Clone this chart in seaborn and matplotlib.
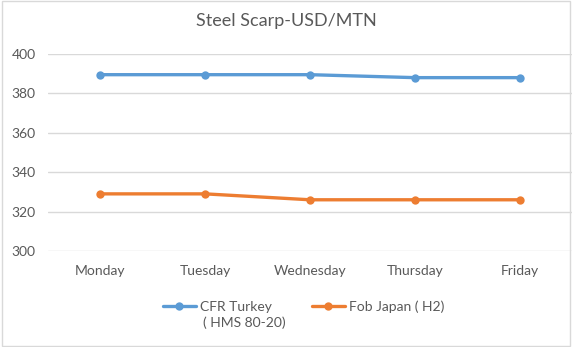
import matplotlib
matplotlib.use("Agg")
import matplotlib.pyplot as plt
from matplotlib.patches import Rectangle
import pandas as pd
import seaborn as sns

days = ["Monday", "Tuesday", "Wednesday", "Thursday", "Friday"]
cfr_turkey = [389.5, 389.5, 389.5, 388, 388]
fob_japan = [329, 329, 326, 326, 326]
series_names = ["CFR Turkey", "Fob Japan ( H2)"]
series_subtitle = "( HMS 80-20)"
y_ticks = [300, 320, 340, 360, 380, 400]

df = pd.DataFrame({
    "day": days * 2,
    "price": cfr_turkey + fob_japan,
    "series": [series_names[0]] * len(days) + [series_names[1]] * len(days),
})

sns.set_theme(style="white")
plt.rcParams["font.family"] = ["Lato", "DejaVu Sans"]
text_color = "#595959"
grid_color = "#D9D9D9"

W, H = 572, 347
fig = plt.figure(figsize=(W / 100, H / 100), dpi=100)
ax = fig.add_axes([48 / W, 1 - 251 / H, (572 - 48) / W, (251 - 54) / H])

palette = {series_names[0]: "#5B9BD5", series_names[1]: "#ED7D31"}
sns.lineplot(data=df, x="day", y="price", hue="series", palette=palette,
             marker="o", markersize=6, markeredgewidth=0, linewidth=2.4,
             sort=False, ax=ax)

ax.set_ylim(300, 400)
ax.set_yticks(y_ticks)
ax.set_xlim(-0.5, len(days) - 0.5)
ax.set_xlabel("")
ax.set_ylabel("")
ax.grid(axis="y", color=grid_color, linewidth=1)
ax.set_axisbelow(True)
for s in ax.spines.values():
    s.set_visible(False)
ax.tick_params(axis="both", length=0, labelsize=10, colors=text_color)
ax.tick_params(axis="x", pad=10)
ax.tick_params(axis="y", pad=9)

fig.text(0.5, 1 - 21 / H, "Steel Scarp-USD/MTN", ha="center", va="center",
         fontsize=13, color=text_color)

handles, labels = ax.get_legend_handles_labels()
ax.get_legend().remove()
leg = fig.legend(handles, labels, loc="upper left",
                 bbox_to_anchor=(163 / W, 1 - 300 / H),
                 ncol=2, frameon=False, fontsize=10, labelcolor=text_color,
                 handlelength=2.35, columnspacing=2.9, handletextpad=0.3,
                 borderpad=0, borderaxespad=0)

# second line of the first legend entry, placed under its label
fig.canvas.draw()
bb = leg.get_texts()[0].get_window_extent()
fig.text((bb.x0 + 3) / W, (bb.y0 - 4) / H, series_subtitle, ha="left", va="top",
         fontsize=10, color=text_color)

fig.patches.append(Rectangle((0.004, 0.004), 0.992, 0.992, transform=fig.transFigure,
                             fill=False, edgecolor="#D9D9D9", linewidth=1))

fig.savefig("out.png", dpi=100)
